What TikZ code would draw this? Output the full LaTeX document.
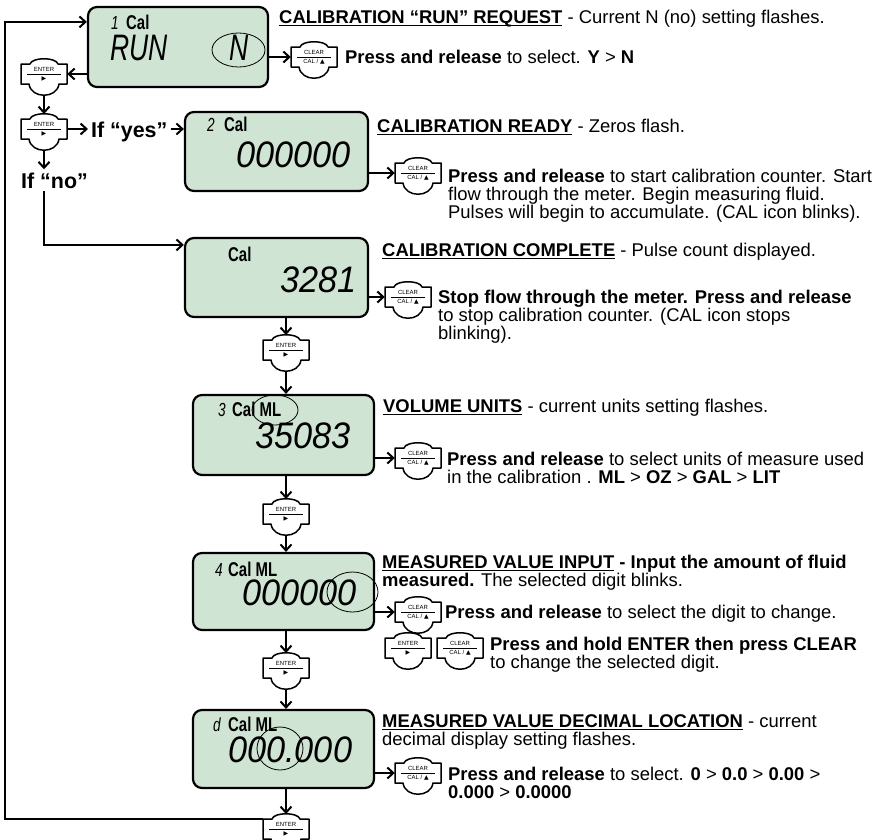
\documentclass[tikz,border=0pt]{standalone}
\usepackage{fontspec}
\setmainfont{Liberation Sans}
\newfontfamily\segfont[FakeStretch=0.93]{Liberation Sans}
\newfontfamily\segnarrow[FakeStretch=0.72]{Liberation Sans}
\newfontfamily\calfont[FakeStretch=0.75]{Liberation Sans}
\newfontfamily\symfont{DejaVu Sans}
\usetikzlibrary{arrows.meta}

\definecolor{lcdgreen}{RGB}{208,228,212}

% underlined heading
\newcommand{\headline}[1]{\setbox0\hbox{\textbf{#1}}\rlap{\rule[-3bp]{\wd0}{1.2bp}}\box0\relax}

% key icon: name, x, y, upper label, lower label
\newcommand{\keyicon}[5]{
  \node[keybody] (#1) at (#2,#3) {};
  \draw[keyline] ({#2-23},{#3-10}) -- ({#2-14},{#3-10})
    .. controls ({#2-12},{#3-17}) and ({#2+12},{#3-17}) .. ({#2+14},{#3-10})
    -- ({#2+23},{#3-10}) -- ({#2+23},{#3+10}) -- ({#2+15},{#3+10})
    .. controls ({#2+13},{#3+25}) and ({#2-13},{#3+25}) .. ({#2-15},{#3+10})
    -- ({#2-23},{#3+10}) -- cycle;
  \draw[line width=0.7bp] ({#2-17},#3) -- ({#2+17},#3);
  \node[keytext] (#1-up) at (#2,{#3-4.5}) {#4};
  \node[keytext] (#1-lo) at (#2,{#3+5}) {#5};
  \coordinate (#1-top) at (#2,{#3-15});
  \coordinate (#1-bot) at (#2,{#3+21});
}
\newcommand{\enterkey}[3]{\keyicon{#1}{#2}{#3}{ENTER}{{\symfont ▶}}}
\newcommand{\clearkey}[3]{\keyicon{#1}{#2}{#3}{CLEAR}{CAL / {\symfont ▲}}}

\begin{document}
\begin{tikzpicture}[x=1bp,y=-1bp,
  lcd/.style={draw, line width=2.2bp, rounded corners=9bp, fill=lcdgreen},
  keybody/.style={minimum width=46bp, minimum height=20bp, inner sep=0pt},
  keyline/.style={line width=1.5bp, fill=white, line join=round},
  keytext/.style={inner sep=0pt, font=\fontsize{6}{6}\selectfont},
  flow/.style={line width=2bp, -{Straight Barb[length=6bp,width=11bp]}},
  txt/.style={anchor=base west, align=left, inner sep=0pt, font=\fontsize{18.5}{18}\selectfont},
  choice/.style={anchor=base west, inner sep=3bp, font=\fontsize{21.5}{22}\selectfont\bfseries},
  seg/.style={anchor=base west, inner sep=0pt, font=\segfont\itshape\fontsize{37}{37}\selectfont},
  segsmall/.style={anchor=base west, inner sep=0pt, font=\segnarrow\itshape\fontsize{19}{19}\selectfont},
  cal/.style={anchor=base west, inner sep=0pt, font=\calfont\bfseries\fontsize{20}{20}\selectfont},
  blink/.style={line width=0.8bp}
]
\useasboundingbox (0,0) rectangle (878,840);

%
% Displays
%
\node[lcd, minimum width=180bp, minimum height=80bp] (lcd1) at (178,47) {};
\node[lcd, minimum width=183bp, minimum height=79bp] (lcd2) at (276.5,151.5) {};
\node[lcd, minimum width=183bp, minimum height=79bp] (lcd3) at (276.5,277.5) {};
\node[lcd, minimum width=181bp, minimum height=80bp] (lcd4) at (283.5,435) {};
\node[lcd, minimum width=181bp, minimum height=77bp] (lcd5) at (283.5,591.5) {};
\node[lcd, minimum width=181bp, minimum height=78bp] (lcd6) at (283.5,749) {};

\node[segsmall] (d1n) at (111,29) {1};
\node[cal] (d1c) at (126,29) {Cal};
\node[seg, font=\segnarrow\itshape\fontsize{37}{37}\selectfont] (d1v) at (110,60) {RUN};
\node[seg, font=\segnarrow\itshape\fontsize{37}{37}\selectfont] (d1s) at (229,60) {N};
\draw[blink] (238.5,50) ellipse [x radius=26.5bp, y radius=17bp];

\node[segsmall] (d2n) at (207,131) {2};
\node[cal] (d2c) at (224,131) {Cal};
\node[seg] (d2v) at (236,167) {000000};

\node[cal] (d3c) at (228,261) {Cal};
\node[seg] (d3v) at (280,292) {3281};

\node[segsmall] (d4n) at (218,416) {3};
\node[cal] (d4c) at (232,416) {Cal ML};
\node[seg] (d4v) at (255,448) {35083};
\draw[blink] (275,410) ellipse [x radius=23bp, y radius=15bp];

\node[segsmall] (d5n) at (215,576) {4};
\node[cal] (d5c) at (228,576) {Cal ML};
\node[seg] (d5v) at (242,605) {000000};
\draw[blink] (352.5,592) ellipse [x radius=25.5bp, y radius=20bp];

\node[segsmall] (d6n) at (213,731) {d};
\node[cal] (d6c) at (228,731) {Cal ML};
\node[seg] (d6v) at (228,762) {000.000};
\draw[blink] (280,748.5) ellipse [x radius=23bp, y radius=21.5bp];

%
% Keys
%
\enterkey{ea}{44}{74}
\enterkey{eb}{44}{129}
\enterkey{e3}{286}{350}
\enterkey{e4}{286}{514}
\enterkey{e5}{286}{668}
\enterkey{e6}{286}{829}

\clearkey{c1}{314}{57}
\clearkey{c2}{418}{173}
\clearkey{c3}{408}{297}
\clearkey{c4}{418}{458}
\clearkey{c5}{418}{612}
\enterkey{p5}{408}{648}
\clearkey{q5}{460}{648}
\clearkey{c6}{418}{773}

\node[choice] (yes) at (88,137) {If “yes”};
\node[choice] (no) at (18,188) {If “no”};

%
% Texts (y = baseline of last line)
%
\node[txt] (t1) at (279,23) {\headline{CALIBRATION “RUN” REQUEST} - Current N (no) setting flashes.};
\node[txt] (t1k) at (345,63) {\textbf{Press and release} to select. \textbf{Y} > \textbf{N}};
\node[txt] (t2) at (377,132) {\headline{CALIBRATION READY} - Zeros flash.};
\node[txt] (t2k) at (448,218) {\textbf{Press and release} to start calibration counter. Start\\flow through the meter. Begin measuring fluid.\\Pulses will begin to accumulate. (CAL icon blinks).};
\node[txt] (t3) at (382,256) {\headline{CALIBRATION COMPLETE} - Pulse count displayed.};
\node[txt] (t3k) at (438,339) {\textbf{Stop flow through the meter. Press and release}\\to stop calibration counter. (CAL icon stops\\blinking).};
\node[txt] (t4) at (383,412) {\headline{VOLUME UNITS} - current units setting flashes.};
\node[txt] (t4k) at (447,483) {\textbf{Press and release} to select units of measure used\\in the calibration . \textbf{ML} > \textbf{OZ} > \textbf{GAL} > \textbf{LIT}};
\node[txt] (t5) at (382,586) {\headline{MEASURED VALUE INPUT}\textbf{ - Input the amount of fluid}\\\textbf{measured.} The selected digit blinks.};
\node[txt] (t5k) at (445,618) {\textbf{Press and release} to select the digit to change.};
\node[txt] (t5h) at (490,668) {\textbf{Press and hold ENTER then press CLEAR}\\to change the selected digit.};
\node[txt] (t6) at (382,745) {\headline{MEASURED VALUE DECIMAL LOCATION} - current\\decimal display setting flashes.};
\node[txt] (t6k) at (448,798) {\textbf{Press and release} to select. \textbf{0} > \textbf{0.0} > \textbf{0.00} >\\\textbf{0.000} > \textbf{0.0000}};

%
% Connectors
%
\coordinate (loop) at (5,400);
\draw[flow] (e6.north west) -| (loop) |- ([yshift=-16bp]lcd1.north west);
\draw[flow] (ea.east -| lcd1.west) -- (ea.east);
\draw[flow] (ea-bot) -- (eb-top);
\draw[flow] (eb.east) -- (eb.east -| yes.west);
\draw[flow] (eb.east -| yes.east) -- (eb.east -| lcd2.west);
\draw[flow] (eb-bot) -- (eb-bot |- no.north);
\draw[flow] (eb-bot |- no.south) |- ([yshift=-8bp]lcd3.north west);

\draw[flow] (e3-top |- lcd3.south) -- (e3-top);
\draw[flow] (e3-bot) -- (e3-bot |- lcd4.north);
\draw[flow] (e4-top |- lcd4.south) -- (e4-top);
\draw[flow] (e4-bot) -- (e4-bot |- lcd5.north);
\draw[flow] (e5-top |- lcd5.south) -- (e5-top);
\draw[flow] (e5-bot) -- (e5-bot |- lcd6.north);
\draw[flow] (e6-top |- lcd6.south) -- (e6-top);

\draw[flow] (c1.west -| lcd1.east) -- (c1.west);
\draw[flow] (c2.west -| lcd2.east) -- (c2.west);
\draw[flow] (c3.west -| lcd3.east) -- (c3.west);
\draw[flow] (c4.west -| lcd4.east) -- (c4.west);
\draw[flow] (c5.west -| lcd5.east) -- (c5.west);
\draw[flow] (c6.west -| lcd6.east) -- (c6.west);

\end{tikzpicture}
\end{document}
